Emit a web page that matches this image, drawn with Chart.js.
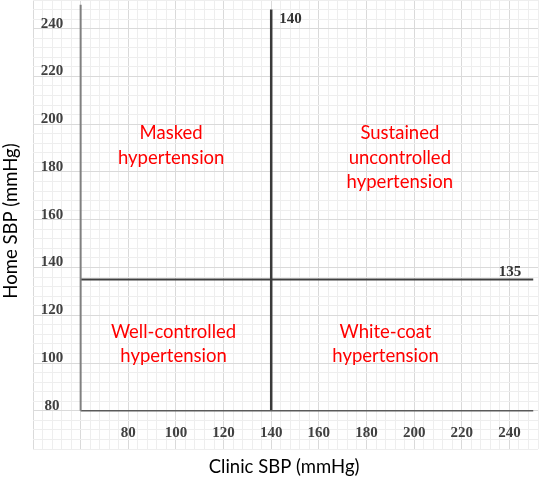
<!DOCTYPE html>
<html>
<head>
<meta charset="utf-8">
<script src="https://cdn.jsdelivr.net/npm/chart.js@4"></script>
<style>
  html, body { margin: 0; padding: 0; background: #fff; }
  #wrap { width: 540px; height: 478px; }
</style>
</head>
<body>
<div id="wrap"><canvas id="chart"></canvas></div>
<script>
// values
const clinicTicks = [80, 100, 120, 140, 160, 180, 200, 220, 240];
const homeTicks = [80, 100, 120, 140, 160, 180, 200, 220, 240];
const clinicRange = [60, 250];
const homeRange = [80, 250];
const clinicThreshold = 140;
const homeThreshold = 135;
const quadrantLabels = [
  ['Masked', 'hypertension'],
  ['Sustained', 'uncontrolled', 'hypertension'],
  ['Well-controlled', 'hypertension'],
  ['White-coat', 'hypertension'],
];
const quadrantCenters = [
  { x: 98, y: 191 },
  { x: 194, y: 186 },
  { x: 99, y: 108 },
  { x: 188, y: 108 },
];

const TICK_FONT = 'bold 15px "Liberation Serif"';
const TEXT_FONT = '18.5px Lato';

const lineSet = (data, color, width) => ({
  data,
  type: 'line',
  borderColor: color,
  borderWidth: width,
  pointRadius: 0,
  fill: false,
});

const gridColor = c => (c.tick && c.tick.value % 20 === 0) ? '#dadada' : '#eeeeee';

const overlay = {
  id: 'overlay',
  afterDatasetsDraw(chart) {
    const { ctx, scales: { x, y } } = chart;
    ctx.save();

    // tick labels sit inside the graph paper
    ctx.font = TICK_FONT;
    ctx.fillStyle = '#404040';
    ctx.textAlign = 'center';
    ctx.textBaseline = 'middle';
    const yLabelX = x.getPixelForValue(48);
    homeTicks.forEach(v => ctx.fillText(v, yLabelX, y.getPixelForValue(v) - 5));
    const xLabelY = y.getPixelForValue(70.7);
    clinicTicks.forEach(v => ctx.fillText(v, x.getPixelForValue(v), xLabelY));

    // threshold notes
    ctx.fillStyle = '#333';
    ctx.textAlign = 'left';
    ctx.fillText(clinicThreshold, x.getPixelForValue(clinicThreshold) + 8, y.getPixelForValue(244));
    ctx.textAlign = 'right';
    ctx.fillText(homeThreshold, x.getPixelForValue(245), y.getPixelForValue(homeThreshold) - 7);

    // quadrant names
    ctx.font = TEXT_FONT;
    ctx.fillStyle = '#ff0000';
    ctx.textAlign = 'center';
    quadrantLabels.forEach((lines, i) => {
      const cx = x.getPixelForValue(quadrantCenters[i].x);
      const cy = y.getPixelForValue(quadrantCenters[i].y);
      const step = 24.5;
      lines.forEach((t, j) => {
        ctx.fillText(t, cx, cy + (j - (lines.length - 1) / 2) * step);
      });
    });

    // axis titles
    ctx.fillStyle = '#000';
    ctx.fillText('Clinic SBP (mmHg)', x.getPixelForValue(145.4), 467);
    ctx.translate(11, 221);
    ctx.rotate(-Math.PI / 2);
    ctx.fillText('Home SBP (mmHg)', 0, 0);
    ctx.restore();
  }
};

new Chart(document.getElementById('chart'), {
  type: 'scatter',
  data: {
    datasets: [
      lineSet([{ x: clinicRange[0], y: homeRange[0] }, { x: clinicRange[0], y: homeRange[1] }], '#808080', 2),
      lineSet([{ x: clinicRange[0], y: homeRange[0] }, { x: clinicRange[1], y: homeRange[0] }], '#5a5a5a', 1.5),
      lineSet([{ x: clinicThreshold, y: homeRange[0] }, { x: clinicThreshold, y: 248 }], '#3a3a3a', 2.5),
      lineSet([{ x: clinicRange[0], y: homeThreshold }, { x: clinicRange[1], y: homeThreshold }], '#404040', 2),
    ]
  },
  options: {
    responsive: true,
    maintainAspectRatio: false,
    animation: false,
    layout: { padding: { left: 33, right: 2, top: 0, bottom: 29 } },
    plugins: { legend: { display: false }, tooltip: { enabled: false } },
    scales: {
      x: {
        type: 'linear',
        min: 40,
        max: 252,
        ticks: { display: false, stepSize: 4 },
        border: { display: false },
        grid: { drawTicks: false, color: gridColor, lineWidth: 1 },
      },
      y: {
        type: 'linear',
        min: 64,
        max: 252,
        ticks: { display: false, stepSize: 4 },
        border: { display: false },
        grid: { drawTicks: false, color: gridColor, lineWidth: 1 },
      },
    },
  },
  plugins: [overlay],
});
</script>
</body>
</html>
